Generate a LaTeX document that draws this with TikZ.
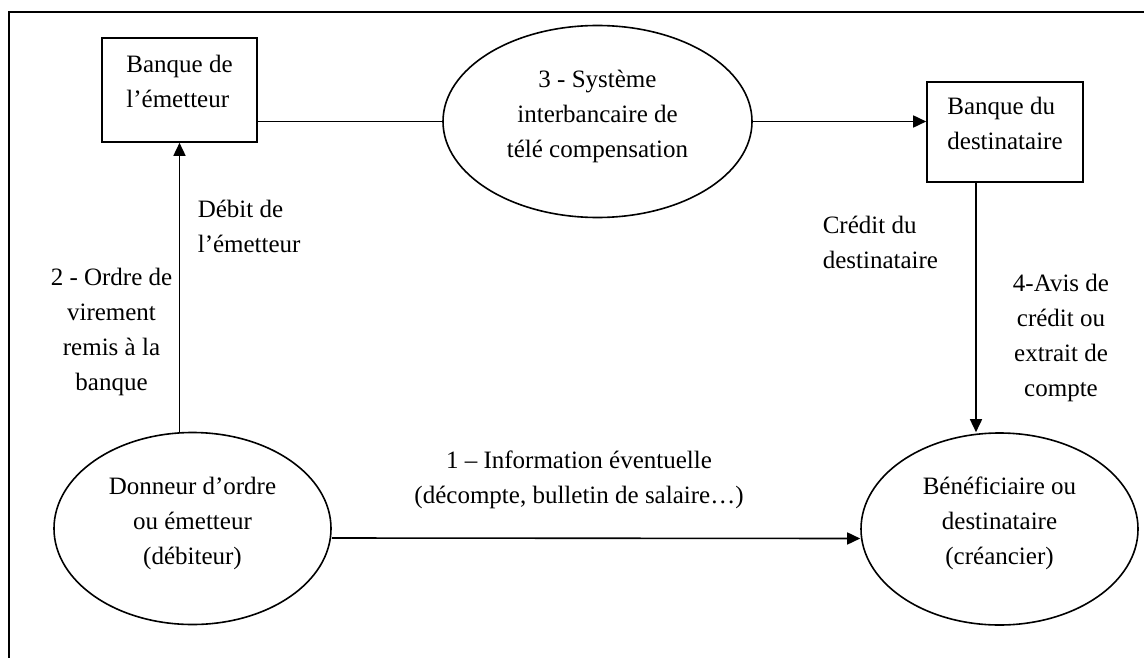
\documentclass[tikz,border=0pt]{standalone}
\usepackage{fontspec}
\setmainfont{Liberation Serif}
\usetikzlibrary{arrows.meta, shapes.geometric}

\begin{document}
\begin{tikzpicture}[x=0.5pt, y=-0.5pt, line width=0.8pt, every node/.style={align=center, inner sep=0pt, font=\fontsize{12.5}{17.5}\selectfont}]
  \tikzset{banque/.style={draw, rectangle, minimum width=77.5pt, minimum height=52pt, align=left, text depth=9pt},
    acteur/.style={draw, ellipse, minimum width=138.5pt, minimum height=96pt, text depth=8pt},
    fleche/.style={-{Triangle[length=6.5pt, width=6pt]}}}
  \useasboundingbox (0,0) rectangle (1144,658);
  \draw[line width=1pt] (1144,12) -- (9,12) -- (9,658);
  \node[banque] (emet) at (179.5,90) {Banque de\\l’émetteur};
  \node[acteur, minimum width=154.5pt] (sys) at (597.5,121.5) {3 - Système\\interbancaire de\\télé compensation};
  \node[banque, minimum width=78pt, minimum height=50pt] (dest) at (1005,132) {Banque du\\destinataire};
  \node[acteur] (don) at (192.5,528.5) {Donneur d’ordre\\ou émetteur\\(débiteur)};
  \node[acteur] (ben) at (999.5,529) {Bénéficiaire ou\\destinataire\\(créancier)};
  \node[anchor=west, align=left] (debit) at (197,226) {Débit de\\l’émetteur};
  \node (ordre) at (111.5,332) {2 - Ordre de\\virement\\remis à la\\banque};
  \node[anchor=west, align=left] (credit) at (822,242.5) {Crédit du\\destinataire};
  \node (avis) at (1061,337.5) {4-Avis de\\crédit ou\\extrait de\\compte};
  \node (info) at (579,480) {1 – Information éventuelle\\(décompte, bulletin de salaire…)};
  \draw (emet.east |- sys.west) -- (sys.west);
  \draw[fleche] (sys.east) -- (sys.east -| dest.west);
  \draw[fleche] ([xshift=-14.5pt]dest.south) -- ([xshift=-14.5pt]dest.south |- ben.north);
  \draw[fleche] (don.north -| emet.south) -- (emet.south);
  \draw[fleche] ([yshift=-4.75pt]don.east) -- ([yshift=-4.75pt]ben.west);
\end{tikzpicture}
\end{document}
